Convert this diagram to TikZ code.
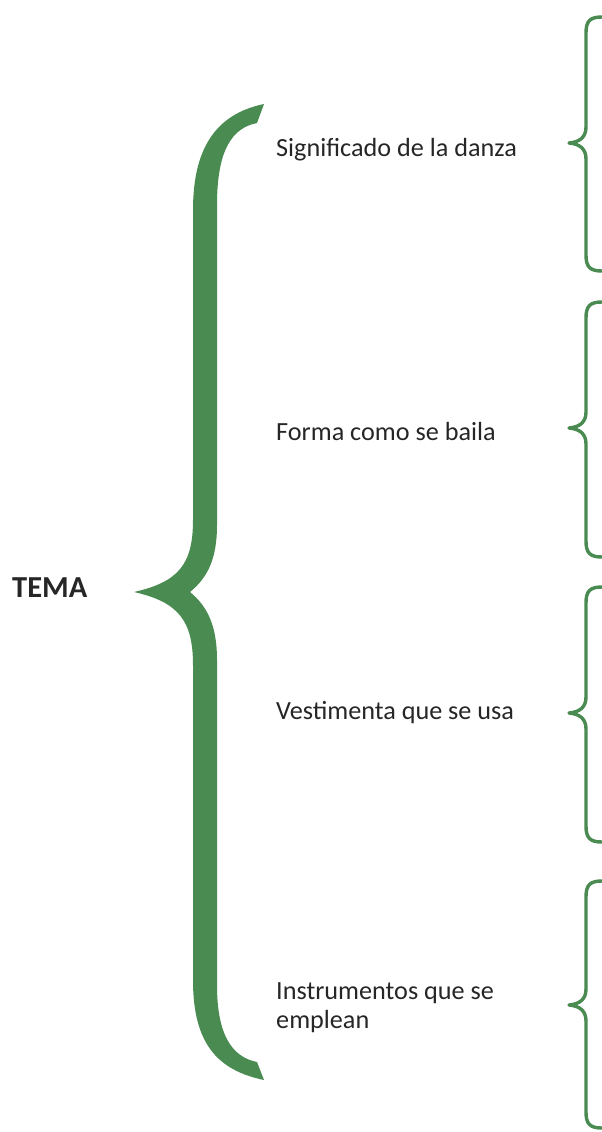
\documentclass[tikz,border=0pt]{standalone}
\usepackage{fontspec}
\setmainfont{Carlito}
\definecolor{bracegreen}{RGB}{74,139,82}
\tikzset{
  label/.style={anchor=base west,inner sep=0pt,font=\fontsize{26.2}{30}\selectfont,text=black!85},
  title/.style={anchor=base west,inner sep=0pt,font=\fontsize{30.5}{34}\selectfont\bfseries,text=black!85},
  thinbrace/.style={draw=bracegreen,line width=3.4pt,line cap=butt,line join=round}
}
\newcommand\thinbr[3]{%
  \draw[thinbrace] (602,#1) .. controls (590,#1) and (586,#1+4) .. (586,#1+16)
    -- (586,#2-16) .. controls (586,#2-6) and (580,#2-1) .. (569,#2)
    .. controls (580,#2+1) and (586,#2+6) .. (586,#2+16)
    -- (586,#3-16) .. controls (586,#3-4) and (590,#3) .. (602,#3);}
\begin{document}
\begin{tikzpicture}[x=1pt,y=-1pt]
\useasboundingbox (0,0) rectangle (602,1132);
% big brace
\fill[bracegreen] (264,104) .. controls (216,114) and (193,148) .. (193,210)
  -- (193,520) .. controls (193,565) and (178,582) .. (134,592)
  .. controls (178,602) and (193,620) .. (193,665)
  -- (193,980) .. controls (193,1042) and (216,1070) .. (264,1080)
  -- (257,1062) .. controls (232,1057) and (217,1035) .. (217,985)
  -- (217,660) .. controls (217,625) and (207,606) .. (190,592)
  .. controls (207,578) and (217,560) .. (217,525)
  -- (217,205) .. controls (217,150) and (232,128) .. (257,123) -- cycle;
% small braces
\thinbr{17}{143}{271}
\thinbr{302}{428}{557}
\thinbr{587}{713}{842}
\thinbr{881}{1005}{1128}
% texts
\node[title] (tema) at (12,597) {TEMA};
\node[label] (t1) at (276,156) {Significado de la danza};
\node[label] (t2) at (276,440) {Forma como se baila};
\node[label] (t3) at (276,719) {Vestimenta que se usa};
\node[label] (t4a) at (276,999) {Instrumentos que se};
\node[label] (t4b) at (276,1028) {emplean};
\end{tikzpicture}
\end{document}
